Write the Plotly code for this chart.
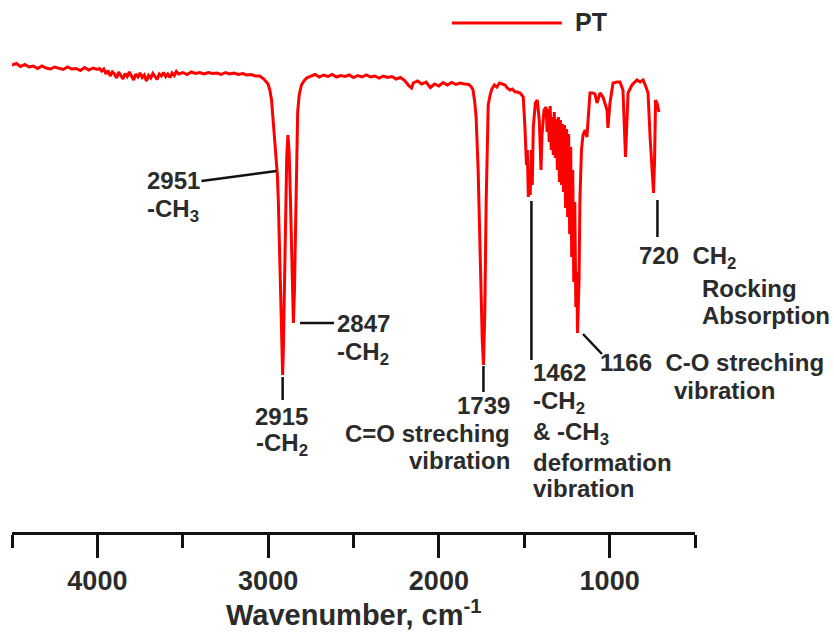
import plotly.graph_objects as go

# ---------------- data ----------------
wavenumber = [
    4500, 4475, 4450, 4425, 4400, 4375, 4350, 4325, 4300, 4275, 4250, 4225, 4200, 4175, 4150, 4125,
    4100, 4075, 4050, 4025, 4000,
    3987.5, 3975, 3962.5, 3950, 3937.5, 3925, 3912.5, 3900, 3887.5, 3875, 3862.5, 3850, 3837.5, 3825, 3812.5, 3800,
    3787.5, 3775, 3762.5, 3750, 3737.5, 3725, 3712.5, 3700, 3687.5, 3675, 3662.5, 3650, 3637.5, 3625, 3612.5, 3600,
    3587.5, 3575, 3562.5, 3550, 3537.5, 3525,
    3500, 3475, 3450, 3425, 3400, 3375, 3350, 3325, 3300, 3275, 3250, 3225, 3200, 3175, 3150, 3125,
    3100, 3075, 3050, 3025, 3000,
    2990, 2980, 2970, 2962, 2956, 2951, 2946, 2940, 2933, 2925, 2918, 2915, 2911, 2905, 2898, 2891,
    2884, 2877, 2869, 2862, 2856, 2852, 2846, 2840, 2834, 2827, 2818, 2805, 2790, 2775, 2760,
    2750, 2725, 2700, 2675, 2650, 2625, 2600, 2575, 2550, 2525, 2500, 2475, 2450, 2425, 2400, 2375,
    2350, 2325, 2300, 2275, 2250, 2225, 2200, 2175, 2160, 2150, 2125, 2100, 2075, 2050, 2025, 2000,
    1975, 1950, 1925, 1900, 1875, 1850, 1825, 1810,
    1800, 1790, 1782, 1770, 1758, 1746, 1739, 1731, 1723, 1717, 1711, 1700, 1690, 1675, 1660, 1645,
    1630, 1612, 1600, 1583, 1570, 1553, 1540, 1524, 1510, 1506,
    1496, 1487, 1482, 1476, 1470, 1465, 1459, 1453, 1447, 1435, 1424, 1412, 1402, 1396, 1384,
    1372, 1366, 1360, 1354, 1348, 1342, 1336, 1330, 1324, 1318, 1312, 1306, 1300, 1294, 1288, 1282,
    1276, 1270, 1264, 1258, 1252, 1246, 1240, 1234, 1228, 1222, 1216, 1210, 1204, 1198, 1192, 1188,
    1179, 1174, 1165, 1156, 1144, 1133, 1127, 1115, 1098, 1086, 1074, 1056, 1039, 1015, 1010, 998,
    980, 957, 939, 922, 907, 892, 869, 840, 822, 804, 787, 775, 763, 752, 743, 737, 731, 723, 711,
]

transmittance = [
    93.4, 93.7, 93.1, 93.5, 93.0, 93.2, 92.7, 93.2, 92.8, 92.6, 93.0, 92.8, 92.5, 93.0, 92.6, 92.7,
    92.3, 92.9, 92.4, 92.8, 92.5,
    92.7, 92.2, 92.6, 91.6, 92.3, 91.2, 92.0, 91.6, 90.8, 92.0, 91.3, 90.6, 91.7, 91.1, 92.0, 91.3,
    90.4, 91.6, 91.0, 91.8, 90.9, 91.4, 90.2, 91.3, 90.8, 91.7, 91.0, 90.5, 91.6, 91.2, 91.9, 91.1,
    91.6, 90.9, 91.8, 91.3, 92.1, 91.6,
    91.9, 91.5, 92.0, 91.7, 91.9, 91.6, 91.9, 91.7, 91.8, 91.5, 91.9, 91.6, 91.8, 91.5, 91.7, 91.4,
    91.5, 91.2, 91.2, 90.6, 89.6,
    88.4, 86.4, 82.0, 78.0, 74.5, 72.2, 71.5, 66.0, 55.0, 42.0, 33.0, 31.4, 36.0, 50.0, 66.0, 75.0,
    79.4, 76.0, 66.0, 54.0, 45.0, 41.8, 48.0, 62.0, 76.0, 84.0, 87.4, 89.4, 90.2, 90.8, 91.0,
    91.2, 91.5, 91.0, 91.4, 91.1, 91.5, 91.0, 91.3, 91.1, 91.4, 90.9, 91.3, 91.0, 91.4, 91.0, 91.2,
    90.8, 91.2, 90.9, 91.1, 90.6, 90.9, 90.3, 89.2, 88.8, 89.8, 90.2, 89.6, 90.0, 88.9, 89.6, 89.2,
    89.9, 89.4, 89.9, 89.5, 89.8, 89.6, 89.5, 89.0,
    88.4, 86.0, 83.0, 72.4, 54.4, 38.4, 33.4, 44.0, 66.0, 80.4, 85.4, 87.4, 88.6, 89.4, 89.0, 89.8,
    89.6, 89.4, 88.8, 88.4, 88.6, 88.0, 88.0, 87.8, 87.2, 87.0,
    81.0, 73.4, 76.4, 67.0, 70.4, 67.4, 76.4, 69.4, 81.0, 85.8, 86.4, 82.4, 72.4, 79.4, 84.4,
    85.0, 80.0, 84.6, 78.0, 85.2, 76.4, 83.0, 75.4, 84.0, 74.8, 82.6, 72.4, 83.0, 70.0, 82.4, 69.4,
    81.6, 68.0, 81.4, 64.8, 80.6, 63.0, 79.6, 59.6, 77.0, 55.0, 72.4, 50.0, 66.0, 45.0, 52.0, 39.8,
    50.4, 66.4, 76.4, 79.4, 80.4, 79.0, 82.4, 87.8, 87.8, 87.6, 85.8, 87.8, 87.0, 84.4, 80.8, 85.8,
    89.8, 90.0, 90.0, 88.4, 75.0, 87.8, 89.4, 90.4, 90.0, 90.4, 89.0, 87.8, 79.0, 72.4, 67.8, 74.0,
    86.4, 85.8, 84.0,
]

series_name = "PT"
x_title = "Wavenumber, cm<sup>-1</sup>"
tick_values = [4000, 3000, 2000, 1000]
tick_labels = ["4000", "3000", "2000", "1000"]
minor_tick_values = [4500, 3500, 2500, 1500, 500]
peak_wavenumbers = [2951, 2915, 2847, 1739, 1462, 1166, 720]

# ---------------- figure ----------------
FONT = "Arial, Liberation Sans, sans-serif"
TXT = "#2b2b2b"
AX = "#111111"

fig = go.Figure()
fig.add_trace(go.Scatter(
    x=wavenumber, y=transmittance, mode="lines", name=series_name,
    line=dict(color="#ff0000", width=3), showlegend=False,
))

# manual legend (long line sample + bold label)
fig.add_shape(type="line", xref="paper", yref="paper", x0=0.644, x1=0.805, y0=1.018, y1=1.018,
              line=dict(color="#ff0000", width=3))
fig.add_annotation(xref="paper", yref="paper", x=0.821, y=1.02, text=series_name, showarrow=False,
                   xanchor="left", yanchor="middle",
                   font=dict(family=FONT, size=25, color=TXT, weight="bold"))

# leader lines (data coordinates, anchored on peak positions)
p2951, p2915, p2847, p1739, p1462, p1166, p720 = peak_wavenumbers
leaders = [
    (3390, p2951, 70.2, 72.2),
    (p2915, p2915, 31.0, 26.4),
    (2813, 2614, 41.8, 41.8),
    (p1739, p1739, 33.2, 28.0),
    (1458, 1458, 66.2, 34.4),
    (1156, 1045, 39.6, 35.6),
    (p720, p720, 66.4, 59.0),
]
for x0, x1, y0, y1 in leaders:
    fig.add_shape(type="line", xref="x", yref="y", x0=x0, x1=x1, y0=y0, y1=y1,
                  line=dict(color=AX, width=2.5))

NB = "\u00a0"
labels = [
    # text, x (paper), y (paper), xanchor
    ("2951", 0.1947, 0.704, "left"),
    ("-CH<sub>3</sub>", 0.1947, 0.644, "left"),
    ("2915", 0.3953, 0.232, "center"),
    ("-CH<sub>2</sub>", 0.3953, 0.176, "center"),
    ("2847", 0.4729, 0.418, "left"),
    ("-CH<sub>2</sub>", 0.4729, 0.358, "left"),
    ("1739", 0.7321, 0.254, "right"),
    ("C=O streching", 0.7321, 0.198, "right"),
    ("vibration", 0.7321, 0.144, "right"),
    ("1462", 0.7599, 0.318, "left"),
    ("-CH<sub>2</sub>", 0.7599, 0.260, "left"),
    ("& -CH<sub>3</sub>", 0.7599, 0.198, "left"),
    ("deformation", 0.7599, 0.140, "left"),
    ("vibration", 0.7599, 0.088, "left"),
    ("1166" + NB + NB + "C-O streching", 0.858, 0.338, "left"),
    ("vibration", 1.0439, 0.284, "center"),
    ("720" + NB + NB + "CH<sub>2</sub>", 0.9151, 0.550, "left"),
    ("Rocking", 1.0073, 0.488, "left"),
    ("Absorption", 1.0073, 0.434, "left"),
]
for text, x, y, xa in labels:
    fig.add_annotation(xref="paper", yref="paper", x=x, y=y, text=text, showarrow=False,
                       xanchor=xa, yanchor="middle",
                       font=dict(family=FONT, size=24, color=TXT, weight="bold"))

# x-axis title as a fixed annotation (keeps the plot area from being pushed by auto-margins)
fig.add_annotation(xref="paper", yref="paper", x=0.5, y=-0.161, text=x_title, showarrow=False,
                   xanchor="center", yanchor="middle",
                   font=dict(family=FONT, size=29, color=TXT, weight="bold"))

fig.update_layout(
    width=834, height=634,
    margin=dict(l=12, r=139, t=32, b=102),
    paper_bgcolor="white", plot_bgcolor="white",
    xaxis=dict(
        range=[4500, 500], showgrid=False, zeroline=False, automargin=False,
        showline=True, linecolor=AX, linewidth=2.5,
        ticks="outside", ticklen=23, tickwidth=2.5, tickcolor=AX,
        tickmode="array", tickvals=tick_values, ticktext=tick_labels,
        tickfont=dict(family=FONT, size=27, color=TXT, weight="bold"),
        minor=dict(tickmode="array", tickvals=minor_tick_values, ticks="outside",
                   ticklen=13, tickwidth=2.5, tickcolor=AX),
    ),
    yaxis=dict(range=[0, 100], visible=False),
)

fig.write_html("out.html")
